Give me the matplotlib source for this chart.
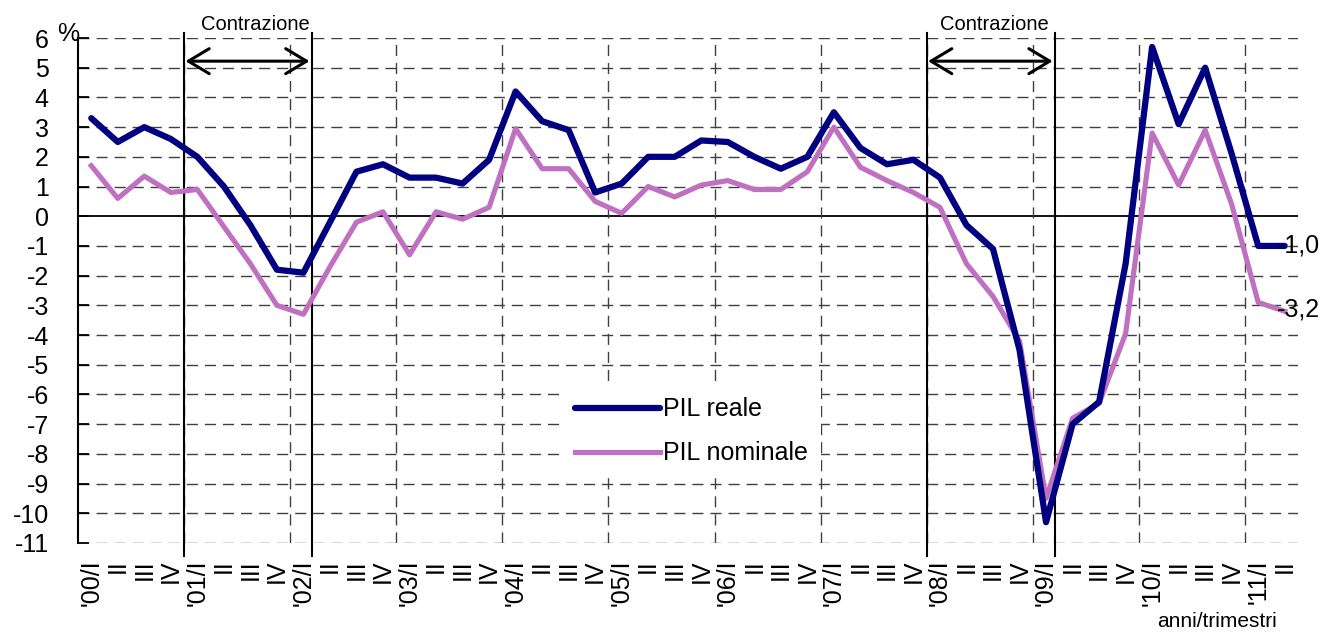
import numpy as np
import matplotlib
matplotlib.use("Agg")
from matplotlib import pyplot as plt

plt.rcParams['font.family'] = ['Liberation Sans', 'DejaVu Sans']

# dati: variazione % tendenziale del PIL, 2000/I - 2011/II
years = ["'00", "'01", "'02", "'03", "'04", "'05", "'06", "'07", "'08", "'09", "'10", "'11"]
quarters = ["I", "II", "III", "IV"]

pil_reale = [3.3, 2.5, 3.0, 2.6, 2.0, 1.0, -0.3, -1.8, -1.9, -0.2,
             1.5, 1.75, 1.3, 1.3, 1.1, 1.9, 4.2, 3.2, 2.9, 0.8,
             1.1, 2.0, 2.0, 2.55, 2.5, 2.0, 1.6, 2.0, 3.5, 2.3,
             1.75, 1.9, 1.3, -0.3, -1.1, -4.5, -10.3, -7.0, -6.25, -1.6,
             5.7, 3.1, 5.0, 2.1, -1.0, -1.0]
pil_nominale = [1.7, 0.6, 1.35, 0.8, 0.9, -0.35, -1.6, -3.0, -3.3, -1.7,
                -0.2, 0.15, -1.3, 0.15, -0.1, 0.3, 2.95, 1.6, 1.6, 0.5,
                0.1, 1.0, 0.65, 1.05, 1.2, 0.9, 0.9, 1.5, 3.0, 1.65,
                1.2, 0.8, 0.3, -1.6, -2.7, -4.2, -9.5, -6.8, -6.3, -3.95,
                2.8, 1.05, 2.9, 0.4, -2.9, -3.2]

labels = []
for y in years:
    for q in quarters:
        labels.append(y + "/" + q if q == "I" else q)
labels = labels[:len(pil_reale)]
x = np.arange(len(pil_reale))

fig = plt.figure(figsize=(13.25, 6.32), dpi=100)
ax = fig.add_axes([78/1325, 1-543/632, 1220/1325, 505/632])

# griglia
for v in range(-11, 7):
    if v == 0:
        ax.axhline(0, color='black', lw=1.3, zorder=1)
    else:
        ax.axhline(v, color='#404040', lw=1, ls=(0, (8, 5)), zorder=1)
for xv in np.arange(3.5, 45, 4):
    ax.axvline(xv, color='#404040', lw=1, ls=(0, (8, 5)), zorder=1)

# periodi di contrazione
for a, b, xt in [(3.5, 8.33, 6.2), (31.5, 36.35, 34.05)]:
    for xv in (a, b):
        ax.plot([xv, xv], [6.17, -11.43], color='black', lw=1.5, clip_on=False, zorder=2)
    ax.annotate('', xy=(a + 0.05, 5.22), xytext=(b - 0.1, 5.22),
                arrowprops=dict(arrowstyle='<->,head_length=0.5,head_width=0.3', lw=2.2,
                                color='black', mutation_scale=30, shrinkA=0, shrinkB=0))
    ax.text(xt, 6.45, 'Contrazione', ha='center', va='center', fontsize=14.5)

ax.plot(x, pil_nominale, color='#c070c0', lw=3.7, label='PIL nominale', zorder=3)
ax.plot(x, pil_reale, color='#000080', lw=4.5, label='PIL reale', zorder=4,
        solid_capstyle='round')

ax.text(44.72, pil_reale[-1], '-1,0', ha='left', va='center', fontsize=18, zorder=5)
ax.text(44.72, pil_nominale[-1] + 0.05, '-3,2', ha='left', va='center', fontsize=18, zorder=5)

ax.set_xlim(-0.5, 45.5)
ax.set_ylim(-11, 6)
ax.set_yticks(range(-11, 7))
ax.set_yticklabels([str(v) for v in range(-11, 7)], fontsize=18)
ax.tick_params(axis='y', direction='in', length=8, width=1.3, pad=21)
ax.set_xticks(x)
ax.set_xticklabels(labels, rotation=90, fontsize=18, va='top')
ax.tick_params(axis='x', length=0, pad=12)
for s in ['top', 'right', 'bottom']:
    ax.spines[s].set_visible(False)
ax.spines['left'].set_linewidth(1.5)

ax.text(-0.88, 6.15, '%', ha='center', va='center', fontsize=18)
fig.text(1217/1325, 1/632, 'anni/trimestri', ha='center', va='bottom', fontsize=15)

h, l = ax.get_legend_handles_labels()
leg = ax.legend(h[::-1], l[::-1], loc='upper left', bbox_to_anchor=(562/1325, 1-385/632),
                bbox_transform=fig.transFigure, fontsize=18, handlelength=3.4,
                handletextpad=0.15, labelspacing=0.8, borderpad=0.5, borderaxespad=0,
                frameon=True, fancybox=False, framealpha=1, edgecolor='none',
                facecolor='white')
leg.set_zorder(6)

fig.savefig('out.png', dpi=100)
